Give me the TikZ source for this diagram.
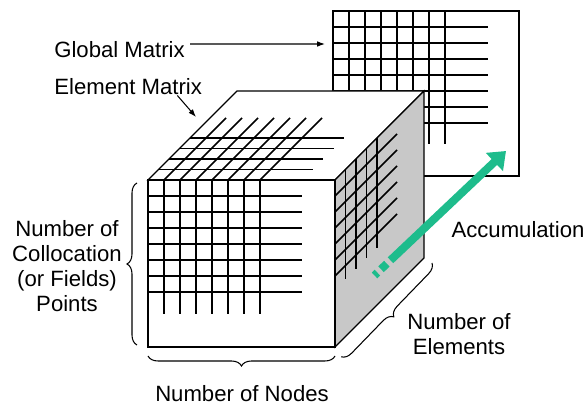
\documentclass[tikz,border=0pt]{standalone}
\usepackage{fontspec}
\setmainfont{Liberation Sans}
\usepackage{tikz}
\usetikzlibrary{arrows.meta,positioning,decorations.pathreplacing}
\definecolor{accgreen}{RGB}{30,188,140}
\definecolor{sidegray}{RGB}{200,200,200}

\begin{document}
\begin{tikzpicture}[x=0.02cm,y=-0.02cm,
  lbl/.style={font=\fontsize{12.6}{14.2}\selectfont,inner sep=0pt},
  grd/.style={line width=0.9pt},
  edg/.style={line width=0.7pt},
  pt/.style={line width=0.6pt,-{Latex[length=4.5pt,width=3.2pt]}},
  brc/.style={line width=0.6pt,decorate,decoration={brace,amplitude=0.2cm}},
  acc/.style={accgreen,line width=0.16cm,-{Triangle[length=0.32cm,width=0.48cm]}}
]
\useasboundingbox (0,0) rectangle (588,404);

% global matrix
\draw[edg,fill=white] (333,11) rectangle (519,176);
\foreach \k in {1,...,7}{
  \draw[grd] (333+16*\k,11) -- (333+16*\k,144);
  \draw[grd] (333,11+16*\k) -- (488,11+16*\k);
}

% element matrix cube
\coordinate (A) at (148,180);
\coordinate (B) at (335,180);
\coordinate (C) at (335,347);
\coordinate (E) at (237,91);
\coordinate (F) at (424,91);
\coordinate (G) at (424,258);
\draw[edg,fill=white] (A) -- (E) -- (F) -- (B) -- cycle;
\draw[edg,fill=sidegray] (B) -- (F) -- (G) -- (C) -- cycle;
\draw[edg,fill=white] (A) rectangle (C);

\foreach \k in {1,...,7}{
  \draw[grd] (148+16*\k,180) -- ++(62,-62);
  \draw[grd] (148+16*\k,180) -- (148+16*\k,314);
  \draw[grd] (148,180+16*\k) -- ++(154,0);
}
\foreach \d in {10.5,21,31.5,42}{
  \draw[grd] (148+\d,180-\d) -- ++(154,0);
  \draw[grd] (335+\d,180-\d) -- ++(0,110);
}
\foreach \k in {1,...,6}
  \draw[grd] (335,180+16*\k) -- ++(62,-62);

% accumulation
\coordinate (accfrom) at (374.5,275.4);
\coordinate (accto) at (506,151);
\draw[acc,dash pattern=on 0.08cm off 0.1cm on 0.16cm off 0.1cm on 8cm] (accfrom) -- (accto);

% labels
\node[lbl,anchor=west] (glob) at (54,50) {Global Matrix};
\coordinate (gmin) at (325,44);
\draw[pt] ([xshift=0.1cm,yshift=0.12cm]glob.east) -- (gmin);
\node[lbl,anchor=west] (elem) at (54,87) {Element Matrix};
\coordinate (topin) at (196,117);
\draw[pt] ([xshift=-0.5cm]elem.south east) -- (topin);

\node[lbl,align=center] (pts) at (67,266) {Number of\\Collocation\\(or Fields)\\Points};
\draw[brc] (137,345) -- (137,183);
\draw[brc] (335,356) -- (148,356);
\draw[brc] (432,263) -- (341,357);
\node[lbl] (nodes) at (242,394) {Number of Nodes};
\node[lbl,align=center] (elts) at (459,334) {Number of\\Elements};
\node[lbl] (accu) at (518,230) {Accumulation};
\end{tikzpicture}
\end{document}
